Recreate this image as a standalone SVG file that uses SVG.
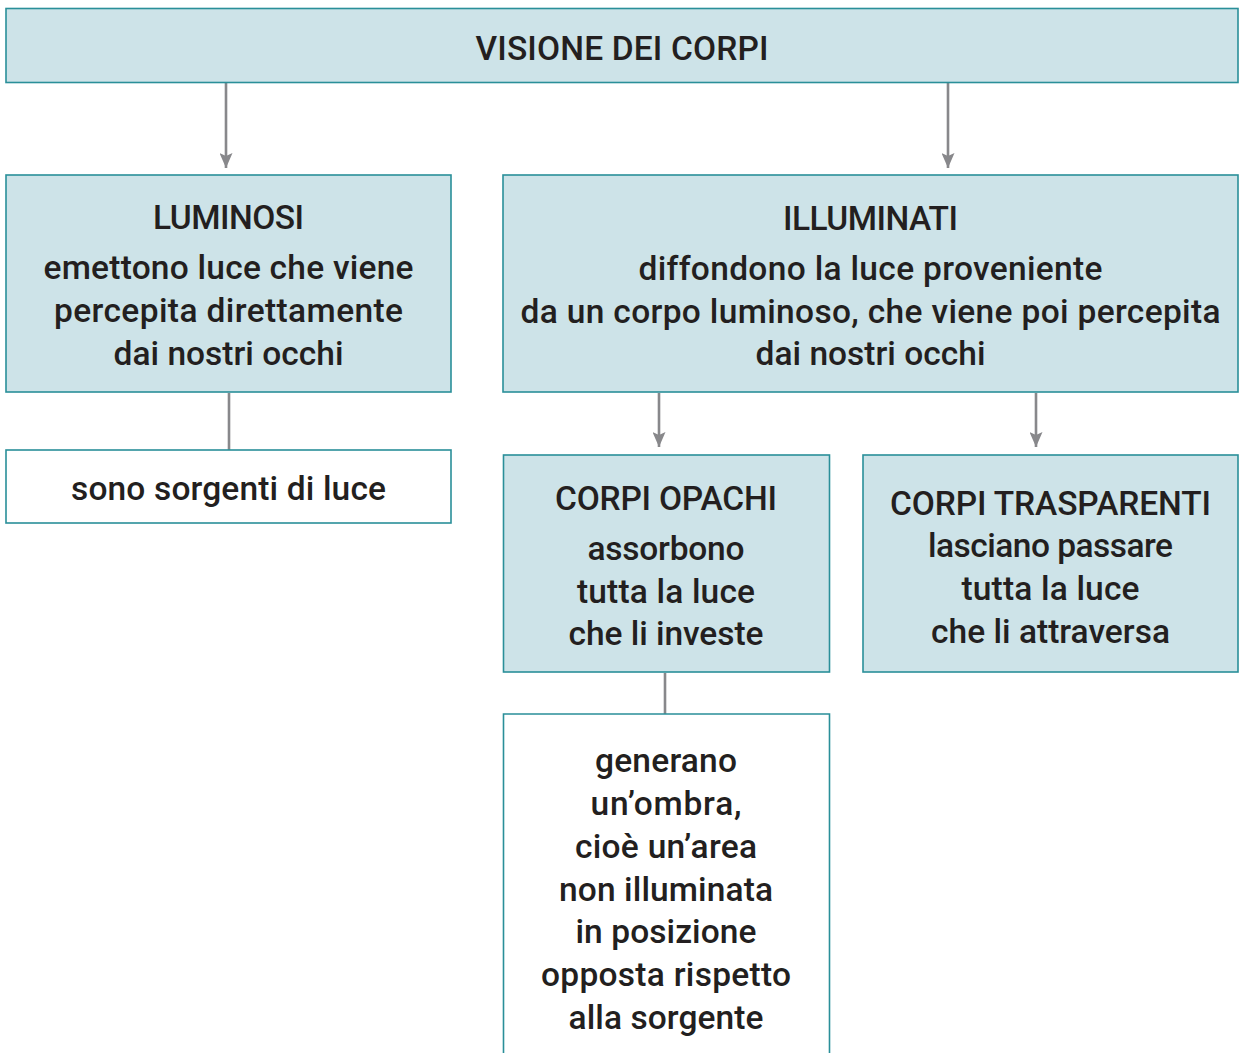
<svg xmlns="http://www.w3.org/2000/svg" width="1240" height="1053" viewBox="0 0 1240 1053">
<style>
.box{fill:#cde3e8;stroke:#2a8f99;stroke-width:1.6}
.wbox{fill:#ffffff;stroke:#2a8f99;stroke-width:1.6}
.t{font-family:Roboto,"Liberation Sans",sans-serif;font-weight:500;font-size:33.5px;fill:#231f20;text-anchor:middle}
.c{stroke:#88888b;stroke-width:2.6;fill:none}
</style>
<defs>
<marker id="ah" viewBox="0 0 15 13" refX="15" refY="6.5" markerWidth="15" markerHeight="13" markerUnits="userSpaceOnUse" orient="auto">
<path d="M0,0 L15,6.5 L0,13 L3,6.5 z" fill="#88888b"/>
</marker>
</defs>
<rect width="1240" height="1053" fill="#ffffff"/>
<g id="connectors">
<line class="c" x1="226" y1="83" x2="226" y2="168" marker-end="url(#ah)"/>
<line class="c" x1="948" y1="83" x2="948" y2="168" marker-end="url(#ah)"/>
<line class="c" x1="229" y1="393" x2="229" y2="450"/>
<line class="c" x1="659" y1="393" x2="659" y2="447" marker-end="url(#ah)"/>
<line class="c" x1="1036" y1="393" x2="1036" y2="447" marker-end="url(#ah)"/>
<line class="c" x1="665" y1="673" x2="665" y2="714"/>
</g>
<g id="visione">
<rect class="box" x="6" y="8.5" width="1232" height="74"/>
<text class="t" x="622" y="60" textLength="293">VISIONE DEI CORPI</text>
</g>
<g id="luminosi">
<rect class="box" x="6" y="175" width="445" height="217"/>
<text class="t" x="228.5" y="229" textLength="151">LUMINOSI</text>
<text class="t" x="228.5" y="279" textLength="370">emettono luce che viene</text>
<text class="t" x="228.5" y="322" textLength="349">percepita direttamente</text>
<text class="t" x="228.5" y="365" textLength="230">dai nostri occhi</text>
</g>
<g id="sorgenti">
<rect class="wbox" x="6" y="450" width="445" height="73"/>
<text class="t" x="228.5" y="500" textLength="315">sono sorgenti di luce</text>
</g>
<g id="illuminati">
<rect class="box" x="503" y="175" width="735" height="217"/>
<text class="t" x="870.5" y="230" textLength="175">ILLUMINATI</text>
<text class="t" x="870.5" y="280" textLength="464">diffondono la luce proveniente</text>
<text class="t" x="870.5" y="323" textLength="700">da un corpo luminoso, che viene poi percepita</text>
<text class="t" x="870.5" y="365" textLength="230">dai nostri occhi</text>
</g>
<g id="opachi">
<rect class="box" x="503.5" y="455" width="326" height="217"/>
<text class="t" x="666" y="510" textLength="222">CORPI OPACHI</text>
<text class="t" x="666" y="560" textLength="157">assorbono</text>
<text class="t" x="666" y="603" textLength="178">tutta la luce</text>
<text class="t" x="666" y="645" textLength="195">che li investe</text>
</g>
<g id="trasparenti">
<rect class="box" x="863" y="455" width="375" height="217"/>
<text class="t" x="1050.5" y="515" textLength="321">CORPI TRASPARENTI</text>
<text class="t" x="1050.5" y="557" textLength="245">lasciano passare</text>
<text class="t" x="1050.5" y="600" textLength="178">tutta la luce</text>
<text class="t" x="1050.5" y="643" textLength="239">che li attraversa</text>
</g>
<g id="ombra">
<path class="wbox" d="M503.5,1053 V714 H829.5 V1053"/>
<text class="t" x="666" y="772" textLength="142">generano</text>
<text class="t" x="666" y="815" textLength="151">un’ombra,</text>
<text class="t" x="666" y="858" textLength="182">cioè un’area</text>
<text class="t" x="666" y="901" textLength="214">non illuminata</text>
<text class="t" x="666" y="943" textLength="181">in posizione</text>
<text class="t" x="666" y="986" textLength="250">opposta rispetto</text>
<text class="t" x="666" y="1029" textLength="195">alla sorgente</text>
</g>
</svg>
